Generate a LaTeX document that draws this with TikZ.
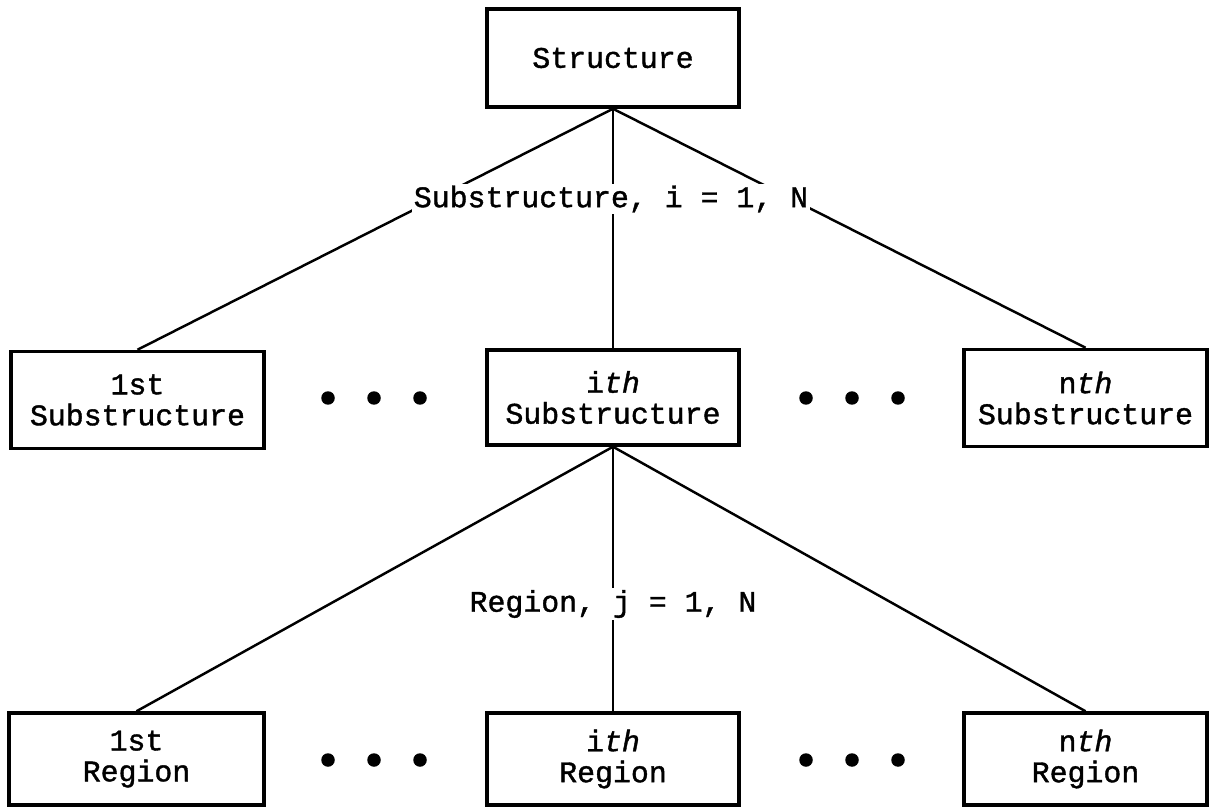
\documentclass[tikz,border=0pt]{standalone}
\usepackage{fontspec}
\setmonofont[FakeBold=1.3]{Liberation Mono}
\usetikzlibrary{positioning}

\tikzset{
  blockbox/.style={draw, rectangle, line width=2pt, align=center, inner sep=0pt,
    minimum width=5.04cm, minimum height=1.94cm,
    font=\ttfamily\fontsize{17}{17.6}\selectfont},
  link/.style={line width=1.4pt},
  steplabel/.style={fill=white, inner sep=1pt, font=\ttfamily\fontsize{17}{17.6}\selectfont},
  dotmark/.style={circle, fill, inner sep=0pt, minimum size=0.27cm}
}

\begin{document}
\begin{tikzpicture}[x=0.02cm, y=-0.02cm]
    \useasboundingbox (0,0) rectangle (1209,810);

    % Top level
    \node (struct) at (613,58) [blockbox, minimum height=1.96cm] {Structure};

    % Substructure level
    \node (sub1) at (137.5,400) [blockbox, minimum width=5.06cm] {1st\\Substructure};
    \node (subi) at (613,397.5) [blockbox, minimum height=1.9cm] {i\textit{th}\\Substructure};
    \node (subn) at (1085.5,398) [blockbox, minimum width=4.86cm] {n\textit{th}\\Substructure};

    % Region level
    \node (reg1) at (136.5,759) [blockbox, minimum width=5.1cm, minimum height=1.84cm] {1st\\Region};
    \node (regi) at (613,759) [blockbox, minimum height=1.84cm] {i\textit{th}\\Region};
    \node (regn) at (1085.5,759) [blockbox, minimum width=4.86cm, minimum height=1.84cm] {n\textit{th}\\Region};

    % Connectors
    \draw [link] (struct.south) -- (sub1.north);
    \draw [link] (struct.south) -- (subi.north);
    \draw [link] (struct.south) -- (subn.north);
    \draw [link] (subi.south) -- (reg1.north);
    \draw [link] (subi.south) -- (regi.north);
    \draw [link] (subi.south) -- (regn.north);

    % Labels over the connectors
    \node (sublabel) at (611,199) [steplabel] {Substructure, i = 1, N};
    \node (reglabel) at (613,604) [steplabel] {Region, j = 1, N};

    % Ellipsis dots
    \foreach \x in {328,374,420,806,852,898} {
        \node (subdot\x) at (\x,398) [dotmark] {};
        \node (regdot\x) at (\x,760) [dotmark] {};
    }
\end{tikzpicture}
\end{document}
